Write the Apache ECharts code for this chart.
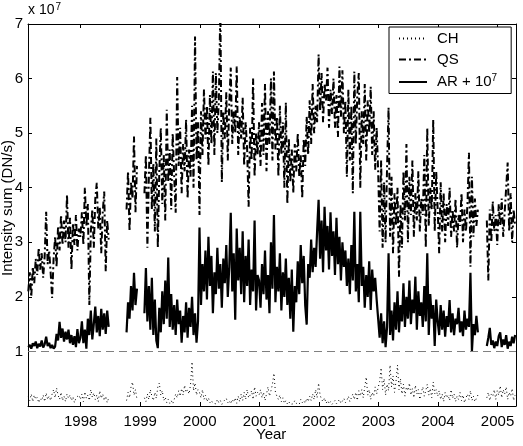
<!DOCTYPE html>
<html>
<head>
<meta charset="utf-8">
<script src="https://cdn.jsdelivr.net/npm/echarts@6/dist/echarts.min.js"></script>
<style>
  html, body { margin: 0; padding: 0; background: #fff; }
  #main { width: 523px; height: 446px; }
</style>
</head>
<body>
<div id="main"></div>
<script>
// values in units of 1e7 DN/s, one sample every 1/40 year inside each data segment
var step = 1 / 40;
var segStart = [1997.12, 1998.77, 1999.07, 2004.82];
var yearTicks = [1998, 1999, 2000, 2001, 2002, 2003, 2004, 2005];

// AR + 1e7
var ar1 = [1.08,1.12,1.05,1.15,1.10,1.18,1.06,1.14,1.09,1.20,1.07,1.13,
  1.27,1.10,1.16,1.06,1.12,1.05,1.09,
  1.32,1.20,1.54,1.25,1.42,1.18,1.36,1.22,1.40,1.15,1.30,
  1.12,1.28,1.08,1.41,1.15,
  1.25,1.55,1.15,1.40,1.05,1.60,1.30,1.75,1.22,1.50,1.82,1.35,1.65,1.28,1.78,1.40,1.70,1.32,1.75,1.45];
var ar2 = [1.35,1.90,1.60,2.20,1.75,2.44,1.85,2.15];
var ar3 = [1.70,2.53,1.55,2.20,1.40,2.35,1.30,1.95,1.20,1.06,1.80,1.35,2.10,1.50,2.30,1.60,2.72,1.45,
  2.05,1.40,1.85,1.30,1.95,1.50,1.75,1.16,1.65,1.35,1.90,1.25,1.80,1.45,2.00,1.30,1.70,1.16,1.55,
  // 2000
  3.27,1.85,2.60,2.10,2.85,1.95,3.10,2.20,2.75,1.70,
  2.45,2.05,2.90,2.15,2.60,1.80,2.70,2.25,2.95,2.00,
  2.55,3.54,2.10,2.80,1.58,3.25,2.30,2.90,2.05,3.20,
  1.90,2.75,2.20,3.05,1.85,2.50,2.10,3.40,1.75,2.40,
  // 2001
  2.30,1.80,2.60,2.05,2.85,1.95,2.40,1.70,3.00,2.15,
  3.50,1.90,2.55,2.10,2.80,1.75,2.45,2.00,2.70,1.85,
  2.35,1.60,2.50,1.36,2.20,1.90,2.65,2.05,2.95,2.25,
  2.75,1.85,1.49,2.60,2.35,3.05,2.45,2.90,2.55,3.20,
  // 2002
  3.78,2.70,3.40,2.45,3.65,2.85,3.30,2.50,3.55,2.75,
  3.20,2.40,3.45,2.60,3.10,2.30,3.00,2.55,2.85,2.20,
  2.70,2.05,2.95,2.30,3.56,2.10,2.60,1.90,3.56,2.20,
  2.55,1.80,2.40,2.00,2.65,1.76,2.50,2.10,2.35,1.95,
  // 2003
  1.60,1.25,1.70,1.15,1.55,1.08,1.45,2.80,1.30,1.75,
  1.20,1.90,1.40,2.10,1.35,1.85,1.55,2.25,1.45,2.00,
  1.60,2.30,1.50,1.95,1.70,2.37,1.40,2.10,1.65,1.90,
  1.45,2.20,1.55,2.80,1.30,2.05,1.60,1.85,1.10,1.95,
  // 2004
  1.55,1.30,1.85,1.40,1.75,1.27,1.65,1.45,1.94,1.35,
  1.70,1.30,1.60,1.50,1.80,1.35,1.55,1.28,1.75,1.40,
  1.60,1.45,2.44,1.00,1.50,1.30,1.65,1.35];
var ar4 = [1.10,1.25,1.43,1.12,1.20,1.06,1.18,1.10,1.28,1.35,1.08,1.22,1.12,1.30,1.05,1.18,1.10,1.27,1.15,1.30];

// QS
var qs1 = [2.10,2.45,2.00,2.55,2.25,2.70,2.40,2.90,2.50,2.80,
  2.35,2.75,3.56,2.60,2.85,2.45,1.98,2.70,3.10,2.55,
  3.30,2.85,3.50,2.95,3.40,3.00,3.87,2.90,3.45,2.50,
  3.35,2.95,3.50,2.85,3.25,
  3.10,3.55,2.95,4.00,3.30,3.70,1.85,3.20,3.60,2.90,3.80,4.09,3.25,3.65,2.80,3.55,3.93,2.47,3.40,3.05];
var qs2 = [3.60,4.30,3.20,4.10,3.80,4.94,3.55,4.40];
var qs3 = [3.90,4.60,2.90,4.20,5.28,3.60,4.45,3.20,4.90,2.90,
  4.30,5.10,3.70,4.60,3.40,5.43,4.10,4.70,3.60,5.00,
  4.20,3.54,6.03,4.40,5.10,3.90,4.80,4.30,5.25,3.80,
  4.70,4.20,5.50,4.00,6.77,4.50,5.20,
  // 2000
  3.50,5.40,4.60,5.80,4.90,5.50,4.40,5.70,4.80,6.13,
  4.60,6.10,5.00,5.60,7.30,4.10,5.40,4.90,5.75,4.50,
  5.55,6.20,4.80,5.40,5.00,6.22,4.60,5.30,4.90,5.65,
  4.40,5.20,4.70,3.65,5.10,4.50,6.00,4.20,5.00,4.60,
  // 2001
  5.20,4.40,5.55,4.60,5.90,4.30,5.40,4.80,6.00,4.50,
  6.13,4.70,5.30,4.20,5.50,4.60,5.20,4.00,5.56,3.70,
  4.90,4.10,4.70,3.90,4.80,4.30,5.00,4.20,4.60,3.80,
  4.90,4.40,5.30,4.60,5.60,4.80,5.90,5.00,5.50,5.20,
  // 2002
  6.44,5.40,6.10,5.20,5.90,5.60,6.20,5.10,5.80,5.35,
  6.00,5.10,5.70,4.93,6.22,5.30,6.15,5.00,5.60,4.20,
  5.80,4.50,5.50,3.90,6.13,4.80,5.70,6.10,4.00,5.40,
  4.80,5.90,4.50,5.60,5.00,5.85,4.60,5.40,4.33,5.10,
  // 2003
  4.30,3.20,4.50,2.90,4.10,3.00,4.40,5.47,3.10,4.20,
  2.80,3.90,3.30,4.00,2.37,3.70,2.90,4.30,3.40,4.80,
  3.00,4.20,3.50,4.50,3.10,3.90,3.40,4.30,3.20,3.80,
  3.50,4.60,2.90,5.10,3.30,4.00,3.60,5.25,3.20,4.30,
  // 2004
  3.60,2.80,4.10,3.20,3.90,3.00,3.70,3.30,4.00,3.10,
  3.60,3.20,3.80,2.90,3.50,3.30,3.90,3.00,3.60,3.20,
  3.70,4.64,2.55,4.20,3.10,3.80,3.30,3.60];
var qs4 = [3.40,2.30,3.60,3.00,3.75,3.20,3.50,2.95,3.70,3.30,3.80,3.10,3.55,4.00,4.46,3.20,3.90,3.00,3.60,3.30];

// CH
var ch1 = [0.18,0.10,0.22,0.08,0.20,0.12,0.16,0.06,0.14,0.10,
  0.20,0.08,0.24,0.12,0.18,0.10,0.22,0.30,0.15,0.33,
  0.20,0.12,0.25,0.10,0.18,0.08,0.22,0.14,0.20,0.10,
  0.17,0.06,0.15,0.12,0.20,
  0.12,0.22,0.08,0.26,0.14,0.20,0.10,0.30,0.16,0.24,0.12,0.20,0.08,0.28,0.14,0.22,0.10,0.18,0.06,0.15];
var ch2 = [0.10,0.25,0.15,0.35,0.44,0.20,0.30,0.12];
var ch3 = [0.15,0.08,0.22,0.12,0.30,0.18,0.10,0.25,0.14,0.35,
  0.42,0.20,0.28,0.10,0.16,0.06,0.12,0.05,0.10,0.04,
  0.12,0.22,0.15,0.28,0.18,0.32,0.20,0.38,0.25,0.30,
  0.22,0.40,0.81,0.28,0.42,0.20,0.30,
  // 2000
  0.25,0.15,0.30,0.12,0.20,0.08,0.15,0.06,0.10,0.05,
  0.08,0.04,0.12,0.06,0.10,0.03,0.08,0.05,0.14,0.06,
  0.10,0.04,0.12,0.07,0.15,0.05,0.18,0.08,0.22,0.10,
  0.25,0.12,0.30,0.15,0.20,0.28,0.12,0.35,0.18,0.25,
  // 2001
  0.20,0.30,0.15,0.25,0.10,0.22,0.35,0.18,0.28,0.40,
  0.60,0.25,0.18,0.12,0.20,0.08,0.15,0.05,0.10,0.04,
  0.08,0.03,0.06,0.04,0.10,0.05,0.08,0.03,0.12,0.06,
  0.10,0.05,0.14,0.08,0.18,0.10,0.22,0.12,0.30,0.15,
  // 2002
  0.42,0.20,0.12,0.08,0.15,0.05,0.10,0.04,0.08,0.03,
  0.06,0.10,0.04,0.08,0.12,0.05,0.09,0.14,0.06,0.10,
  0.18,0.08,0.15,0.22,0.12,0.25,0.10,0.28,0.18,0.30,
  0.15,0.35,0.53,0.20,0.30,0.12,0.25,0.18,0.35,0.22,
  // 2003
  0.25,0.45,0.70,0.30,0.50,0.20,0.40,0.28,0.75,0.35,
  0.55,0.25,0.45,0.75,0.30,0.50,0.22,0.40,0.18,0.35,
  0.28,0.42,0.20,0.32,0.15,0.38,0.22,0.30,0.12,0.25,
  0.35,0.18,0.28,0.40,0.20,0.32,0.15,0.44,0.22,0.30,
  // 2004
  0.18,0.28,0.12,0.22,0.08,0.25,0.15,0.20,0.10,0.30,
  0.14,0.22,0.08,0.18,0.12,0.25,0.10,0.20,0.06,0.15,
  0.22,0.12,0.28,0.10,0.18,0.08,0.14,0.20];
var ch4 = [0.15,0.25,0.10,0.22,0.18,0.30,0.12,0.28,0.20,0.37,0.15,0.30,0.22,0.35,0.12,0.25,0.18,0.32,0.10,0.20];

// join the segments on the time grid, with a break between them
function build(segs) {
  var out = [];
  segs.forEach(function (vals, s) {
    vals.forEach(function (v, k) {
      out.push([segStart[s] + k * step, v]);
    });
    if (s < segs.length - 1) out.push([segStart[s] + vals.length * step, null]);
  });
  return out;
}

var FONT = 'Liberation Sans';
var myChart = echarts.init(document.getElementById('main'));

var axisCommon = {
  axisLine: { show: true, onZero: false, lineStyle: { color: '#000', width: 1 } },
  axisTick: { show: true, inside: true, length: 4, lineStyle: { color: '#000' } },
  splitLine: { show: false }
};

var option = {
  animation: false,
  backgroundColor: '#fff',
  grid: { left: 28, right: 7, top: 24, bottom: 40 },
  legend: {
    orient: 'vertical',
    left: 389,
    top: 27,
    data: ['CH', 'QS', 'AR'],
    itemWidth: 28,
    itemHeight: 14,
    itemGap: 6,
    padding: [4, 14, 4, 9],
    borderColor: '#000',
    borderWidth: 1,
    backgroundColor: '#fff',
    itemStyle: { opacity: 0, borderWidth: 0 },
    formatter: function (name) {
      return name === 'AR' ? 'AR + 10{sup|7}' : name;
    },
    textStyle: {
      fontFamily: FONT, fontSize: 15, color: '#000', padding: [0, 0, 0, 5],
      rich: { sup: { fontFamily: FONT, fontSize: 10, verticalAlign: 'top', padding: [0, 0, 8, 0] } }
    }
  },
  xAxis: [
    Object.assign({}, axisCommon, {
      type: 'value', min: 1997.115, max: 2005.31,
      axisTick: { show: true, inside: true, length: 4, lineStyle: { color: '#000' }, customValues: yearTicks },
      axisLabel: { customValues: yearTicks, color: '#000', fontFamily: FONT, fontSize: 15, margin: 8,
        formatter: function (v) { return String(Math.round(v)); } }
    }),
    Object.assign({}, axisCommon, {
      type: 'value', position: 'top', min: 1997.115, max: 2005.31,
      axisTick: { show: true, inside: true, length: 4, lineStyle: { color: '#000' }, customValues: yearTicks },
      axisLabel: { show: false, customValues: yearTicks }
    })
  ],
  yAxis: [
    Object.assign({}, axisCommon, {
      type: 'value', min: 0, max: 7, interval: 1,
      axisLabel: { color: '#000', fontFamily: FONT, fontSize: 15, margin: 5,
        formatter: function (v) { return v === 0 ? '' : String(v); } }
    }),
    Object.assign({}, axisCommon, {
      type: 'value', position: 'right', min: 0, max: 7, interval: 1,
      axisLabel: { show: false }
    })
  ],
  graphic: [
    {
      type: 'text', left: 28, top: 2,
      style: {
        text: 'x 10{sup|7}', fill: '#000', font: '14px "Liberation Sans"',
        rich: { sup: { fontSize: 10, fontFamily: FONT, verticalAlign: 'top', padding: [0, 0, 7, 1] } }
      }
    },
    {
      type: 'text', left: 256, top: 427,
      style: { text: 'Year', fill: '#000', font: '15px "Liberation Sans"' }
    },
    {
      type: 'text', x: 8, y: 208, rotation: Math.PI / 2,
      style: { text: 'Intensity sum (DN/s)', fill: '#000', font: '15px "Liberation Sans"',
        textAlign: 'center', textVerticalAlign: 'middle' }
    }
  ],
  series: [
    {
      name: 'CH', type: 'line', data: build([ch1, ch2, ch3, ch4]),
      symbol: 'none', showSymbol: false, connectNulls: false,
      lineStyle: { color: '#000', width: 1, type: [1, 3] },
      itemStyle: { color: '#000' }
    },
    {
      name: 'QS', type: 'line', data: build([qs1, qs2, qs3, qs4]),
      symbol: 'none', showSymbol: false, connectNulls: false,
      lineStyle: { color: '#000', width: 2, type: [7, 3, 2, 3] },
      itemStyle: { color: '#000' }
    },
    {
      name: 'AR', type: 'line', data: build([ar1, ar2, ar3, ar4]),
      symbol: 'none', showSymbol: false, connectNulls: false,
      lineStyle: { color: '#000', width: 2.2 },
      itemStyle: { color: '#000' },
      markLine: {
        silent: true, symbol: 'none', label: { show: false },
        lineStyle: { color: '#808080', width: 1, type: [8, 5] },
        data: [{ yAxis: 1 }]
      }
    }
  ]
};

myChart.setOption(option);
</script>
</body>
</html>
